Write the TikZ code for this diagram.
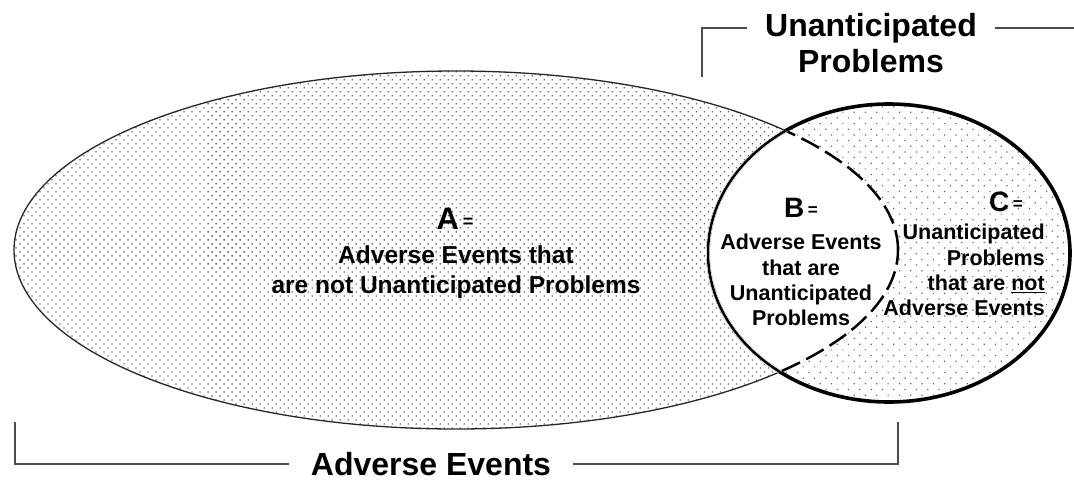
\documentclass[tikz,border=0pt]{standalone}
\usepackage{fontspec}
\setmainfont{Liberation Sans}
\usetikzlibrary{patterns.meta,positioning}

\def\aeset{(456,250) ellipse [x radius=442pt, y radius=179pt]}
\def\upset{(889,253) ellipse [x radius=181pt, y radius=149pt]}

\begin{document}
\begin{tikzpicture}[x=1pt, y=-1pt,
    every node/.style={inner sep=0pt, text centered},
    bigtxt/.style={font=\fontsize{32}{36}\selectfont\bfseries, inner xsep=22pt},
    atxt/.style={font=\fontsize{24.5}{30}\selectfont\bfseries, align=center},
    bctxt/.style={font=\fontsize{21.5}{25.3}\selectfont\bfseries, align=center},
    densedots/.style={pattern={Dots[radius=0.9pt, distance=5.66pt, angle=45]}, pattern color=black!60},
    sparsedots/.style={pattern={Dots[radius=0.85pt, distance=8pt, angle=45]}, pattern color=black!60},
    bracket/.style={draw=black!70, line width=2pt}]
\useasboundingbox (0,0) rectangle (1074,480);

% sets
\fill[densedots] \aeset;
\draw[line width=1.3pt, black!85] \aeset;
\fill[white] \upset;
\fill[sparsedots] \upset;
\begin{scope}
  \clip \aeset;
  \fill[white] \upset;
\end{scope}
\begin{scope}
  \clip \upset;
  \draw[line width=2.5pt, dash pattern=on 20pt off 7pt] \aeset;
\end{scope}
\draw[line width=3.6pt] \upset;
\begin{scope}
  \clip \aeset;
  \draw[white, line width=3.8pt] \upset;
  \draw[line width=2.5pt] \upset;
\end{scope}

% region labels
\node[atxt] (atitle) at (455,219) {{\fontsize{31}{31}\selectfont A}\,\raisebox{2pt}{\fontsize{18}{18}\selectfont =}};
\node[atxt] (adesc) at (456,272) {Adverse Events that\\are not Unanticipated Problems};
\node[bctxt] (btitle) at (801,208) {{\fontsize{28}{28}\selectfont B}\,\raisebox{2pt}{\fontsize{17}{17}\selectfont =}};
\node[bctxt] (bdesc) at (801,280) {Adverse Events\\that are\\Unanticipated\\Problems};
\node[bctxt] (ctitle) at (1006,202) {{\fontsize{28}{28}\selectfont C}\,\raisebox{2pt}{\fontsize{17}{17}\selectfont =}};
\node[bctxt, align=right, anchor=east] (cdesc) at (1045,270) {Unanticipated\\Problems\\that are \underline{not}\\Adverse Events};

% brackets
\node[bigtxt, anchor=base] (aelbl) at (431,475) {Adverse Events};
\coordinate (aeleft) at (15,422);
\coordinate (aeright) at (898,422);
\draw[bracket] (aeleft) |- (aelbl);
\draw[bracket] (aeright) |- (aelbl);

\node[bigtxt, anchor=base, inner xsep=18pt] (uplbl) at (871,36) {Unanticipated};
\node[bigtxt, anchor=base] (uplbl2) at (871,72) {Problems};
\coordinate (upleft) at (702,77);
\coordinate (upright) at (1074,0);
\draw[bracket] (upleft) |- (uplbl);
\draw[bracket] (uplbl) -- (uplbl -| upright);
\end{tikzpicture}
\end{document}
